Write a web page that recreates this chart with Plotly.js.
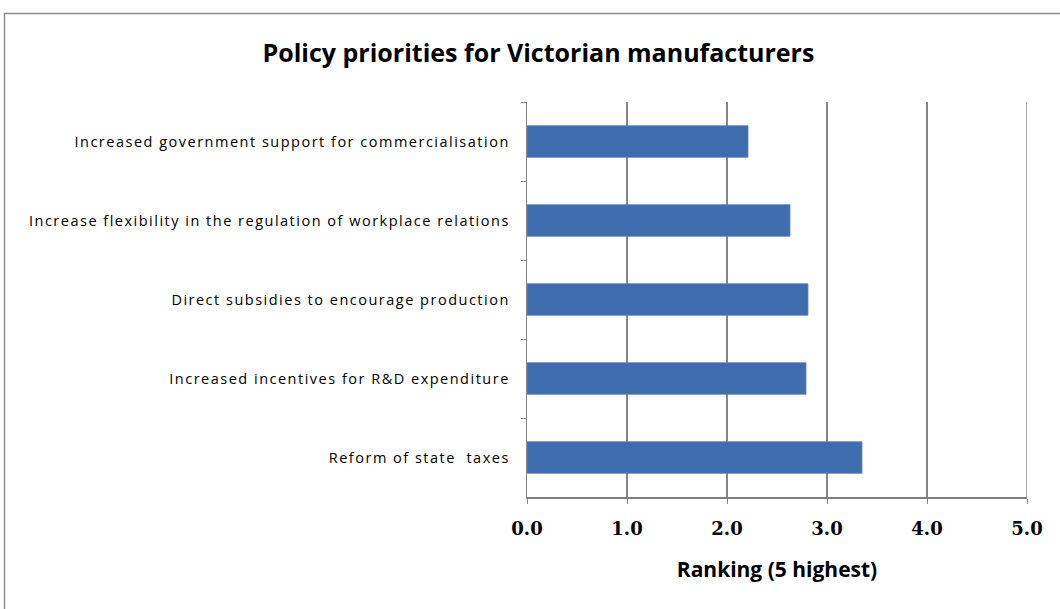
<!DOCTYPE html>
<html>
<head>
<meta charset="utf-8">
<script src="https://cdn.plot.ly/plotly-3.0.1.min.js"></script>
<style>
html,body{margin:0;padding:0;background:#fff;}
#chart .ytick text{letter-spacing:1.5px;}
</style>
</head>
<body>
<div id="chart" style="width:1060px;height:609px;"></div>
<script>
const categories = [
  "Increased government support for commercialisation",
  "Increase flexibility in the regulation of workplace relations",
  "Direct subsidies to encourage production",
  "Increased incentives for R&D expenditure",
  "Reform of state  taxes"
];
const rankings = [2.21, 2.63, 2.81, 2.79, 3.35];
const xTickVals = [0, 1, 2, 3, 4, 5];
const xTickText = ["0.0", "1.0", "2.0", "3.0", "4.0", "5.0"];

const trace = {
  type: "bar",
  orientation: "h",
  y: categories,
  x: rankings,
  width: 0.4,
  marker: { color: "#3F6CAF", line: { color: "#5B84C4", width: 0.8 } },
  hoverinfo: "x+y"
};

const layout = {
  width: 1060,
  height: 609,
  paper_bgcolor: "#ffffff",
  plot_bgcolor: "#ffffff",
  margin: { l: 527, r: 33, t: 102, b: 112 },
  showlegend: false,
  title: {
    text: "<b>Policy priorities for Victorian manufacturers</b>",
    font: { family: "Open Sans, Liberation Sans, sans-serif", size: 25, color: "#000" },
    x: 0.508, xanchor: "center",
    y: 0.912, yanchor: "middle"
  },
  xaxis: {
    range: [0, 5],
    tickvals: xTickVals,
    ticktext: xTickText,
    showgrid: true,
    gridcolor: "#868686",
    gridwidth: 1.3,
    zeroline: false,
    showline: true,
    linecolor: "#7f7f7f",
    linewidth: 1.5,
    ticks: "outside",
    ticklen: 5,
    tickcolor: "#868686",
    ticklabelstandoff: 10,
    tickfont: { family: "DejaVu Serif, Liberation Serif, serif", size: 18, color: "#000", weight: "bold" },
    title: {
      text: "<b>Ranking (5 highest)</b>",
      font: { family: "Open Sans, Liberation Sans, sans-serif", size: 21, color: "#000" },
      standoff: 24
    },
    fixedrange: true
  },
  yaxis: {
    autorange: "reversed",
    type: "category",
    showgrid: false,
    zeroline: false,
    showline: true,
    linecolor: "#868686",
    linewidth: 1.3,
    ticks: "outside",
    tickson: "boundaries",
    ticklen: 5,
    tickcolor: "#868686",
    ticklabelstandoff: 13,
    tickfont: { family: "Open Sans, DejaVu Sans, sans-serif", size: 14.5, color: "#000" },
    fixedrange: true
  },
  shapes: [
    {
      type: "line",
      xref: "x", yref: "paper",
      x0: 5, x1: 5, y0: 0, y1: 1,
      line: { color: "#868686", width: 1.5 }
    },
    {
      type: "rect",
      xref: "paper", yref: "paper",
      x0: -1.045, x1: 1.2, y0: -0.4, y1: 1.224,
      line: { color: "#8c8c8c", width: 1.5 },
      fillcolor: "rgba(0,0,0,0)",
      layer: "below"
    }
  ]
};

Plotly.newPlot("chart", [trace], layout, { displayModeBar: false, staticPlot: true });
</script>
</body>
</html>
